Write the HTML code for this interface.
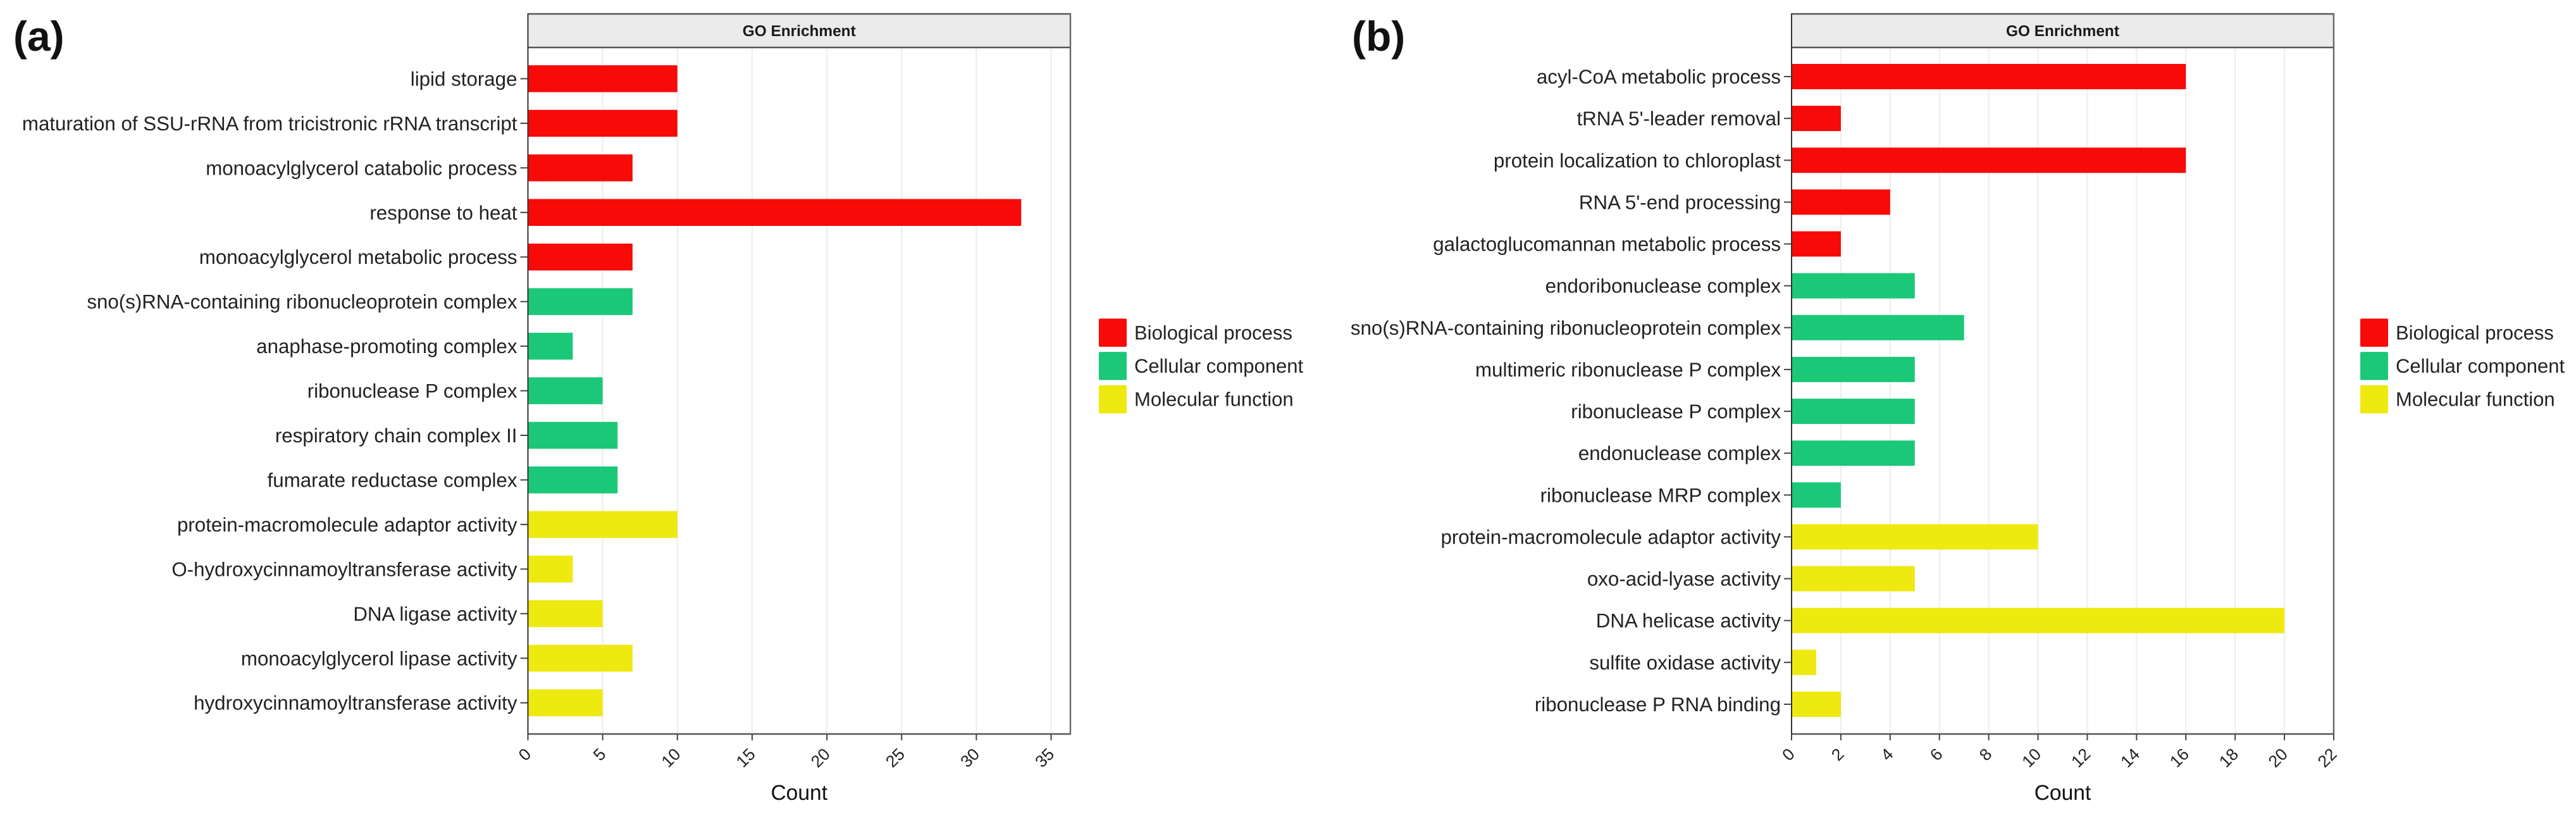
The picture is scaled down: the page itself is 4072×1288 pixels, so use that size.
<!DOCTYPE html>
<html lang="en">
<head>
<meta charset="utf-8">
<title>GO Enrichment</title>
<style>
html,body{margin:0;padding:0;background:#fff;}
body{width:4072px;height:1288px;overflow:hidden;}
svg{display:block;font-family:"Liberation Sans",Arial,sans-serif;text-rendering:geometricPrecision;}
</style>
</head>
<body>
<svg id="figure" xmlns="http://www.w3.org/2000/svg" width="4072" height="1288" viewBox="0 0 4072 1288"></svg>
<script>
const categoriesA = [
  "lipid storage",
  "maturation of SSU-rRNA from tricistronic rRNA transcript",
  "monoacylglycerol catabolic process",
  "response to heat",
  "monoacylglycerol metabolic process",
  "sno(s)RNA-containing ribonucleoprotein complex",
  "anaphase-promoting complex",
  "ribonuclease P complex",
  "respiratory chain complex II",
  "fumarate reductase complex",
  "protein-macromolecule adaptor activity",
  "O-hydroxycinnamoyltransferase activity",
  "DNA ligase activity",
  "monoacylglycerol lipase activity",
  "hydroxycinnamoyltransferase activity"
];
const valuesA = [10, 10, 7, 33, 7, 7, 3, 5, 6, 6, 10, 3, 5, 7, 5];
const groupsA = [0, 0, 0, 0, 0, 1, 1, 1, 1, 1, 2, 2, 2, 2, 2];
const ticksA = [0, 5, 10, 15, 20, 25, 30, 35];

const categoriesB = [
  "acyl-CoA metabolic process",
  "tRNA 5'-leader removal",
  "protein localization to chloroplast",
  "RNA 5'-end processing",
  "galactoglucomannan metabolic process",
  "endoribonuclease complex",
  "sno(s)RNA-containing ribonucleoprotein complex",
  "multimeric ribonuclease P complex",
  "ribonuclease P complex",
  "endonuclease complex",
  "ribonuclease MRP complex",
  "protein-macromolecule adaptor activity",
  "oxo-acid-lyase activity",
  "DNA helicase activity",
  "sulfite oxidase activity",
  "ribonuclease P RNA binding"
];
const valuesB = [16, 2, 16, 4, 2, 5, 7, 5, 5, 5, 2, 10, 5, 20, 1, 2];
const groupsB = [0, 0, 0, 0, 0, 1, 1, 1, 1, 1, 1, 2, 2, 2, 2, 2];
const ticksB = [0, 2, 4, 6, 8, 10, 12, 14, 16, 18, 20, 22];

const groupNames = ["Biological process", "Cellular component", "Molecular function"];
const groupColors = ["#f70a08", "#1bc878", "#eee90f"];

const SVG_NS = "http://www.w3.org/2000/svg";
const root = document.getElementById("figure");

function make(tag, attrs, parent, text) {
  const el = document.createElementNS(SVG_NS, tag);
  for (const k in attrs) el.setAttribute(k, attrs[k]);
  if (text !== undefined) el.textContent = text;
  parent.appendChild(el);
  return el;
}

function drawPanel(p, categories, values, groups, ticks) {
  const g = make("g", {}, root);
  
  

  const xScale = v => p.left + v * (p.right - p.left) / p.domainMax;
  const yScale = i => p.firstY + i * p.step;

  const label = make("text", {x: p.labelX, y: 80, "font-size": 66, "font-weight": "bold", fill: "#111"}, g, "(" + p.id + ")");
  
  

  ticks.forEach(t => {
    if (t === 0 || xScale(t) >= p.right - 1) return;
    const grid = make("line", {x1: xScale(t), x2: xScale(t), y1: p.top, y2: p.bottom, stroke: "#efefef", "stroke-width": 2.4}, g);
    
    
  });

  categories.forEach((c, i) => {
    const y = yScale(i);
    const bar = make("rect", {x: p.left, y: y - p.barH / 2, width: xScale(values[i]) - p.left, height: p.barH, fill: groupColors[groups[i]]}, g);
    
    

    const tick = make("line", {x1: p.left - 12, x2: p.left, y1: y, y2: y, stroke: "#444", "stroke-width": 2}, g);
    
    

    const lab = make("text", {x: p.left - 17, y: y + 11, "text-anchor": "end", "font-size": 31.3, fill: "#222"}, g, c);
    
    
  });

  const strip = make("rect", {x: p.left, y: 22, width: p.right - p.left, height: 53, fill: "#ebebeb"}, g);
  
  

  const title = make("text", {x: (p.left + p.right) / 2, y: 57, "text-anchor": "middle", "font-size": 24.4, "font-weight": "bold", fill: "#1a1a1a"}, g, "GO Enrichment");
  
  

  const frame = [
    [p.left, 22, p.right, 22, "#555", 2.6],
    [p.left, 75, p.right, 75, "#555", 2.6],
    [p.left, p.bottom, p.right, p.bottom, "#555", 2.6],
    [p.left, 21, p.left, p.bottom + 1, "#333", 2],
    [p.right, 21, p.right, p.bottom + 1, "#666", 2.4]
  ];
  frame.forEach(f => {
    const edge = make("line", {x1: f[0], y1: f[1], x2: f[2], y2: f[3], stroke: f[4], "stroke-width": f[5]}, g);
    
    
  });

  ticks.forEach(t => {
    const x = xScale(t);
    const tick = make("line", {x1: x, x2: x, y1: p.bottom, y2: p.bottom + 10, stroke: "#444", "stroke-width": 2}, g);
    
    

    const lab = make("text", {transform: "translate(" + x + "," + (p.bottom + 27) + ") rotate(-45)", "text-anchor": "end", dy: "0.35em", "font-size": 26.5, fill: "#222"}, g, String(t));
    
    
  });

  const axisTitle = make("text", {x: (p.left + p.right) / 2, y: 1264, "text-anchor": "middle", "font-size": 33.6, fill: "#111"}, g, "Count");
  
  

  groupNames.forEach((name, i) => {
    const y = 503.5 + i * 52.6;
    const swatch = make("rect", {x: p.legendX, y: y, width: 44, height: 44.5, rx: 2, fill: groupColors[i]}, g);
    
    

    const text = make("text", {x: p.legendX + 56, y: y + 33, "font-size": 31, fill: "#222"}, g, name);
    
    
  });
}

drawPanel(
  {id: "a", left: 834.5, right: 1692, top: 75, bottom: 1160, domainMax: 36.29, firstY: 124.4, step: 70.45, barH: 42.5, labelX: 21, legendX: 1737},
  categoriesA, valuesA, groupsA, ticksA
);
drawPanel(
  {id: "b", left: 2832, right: 3689, top: 75, bottom: 1160, domainMax: 22, firstY: 121, step: 66.13, barH: 40, labelX: 2137, legendX: 3731},
  categoriesB, valuesB, groupsB, ticksB
);
</script>
</body>
</html>
